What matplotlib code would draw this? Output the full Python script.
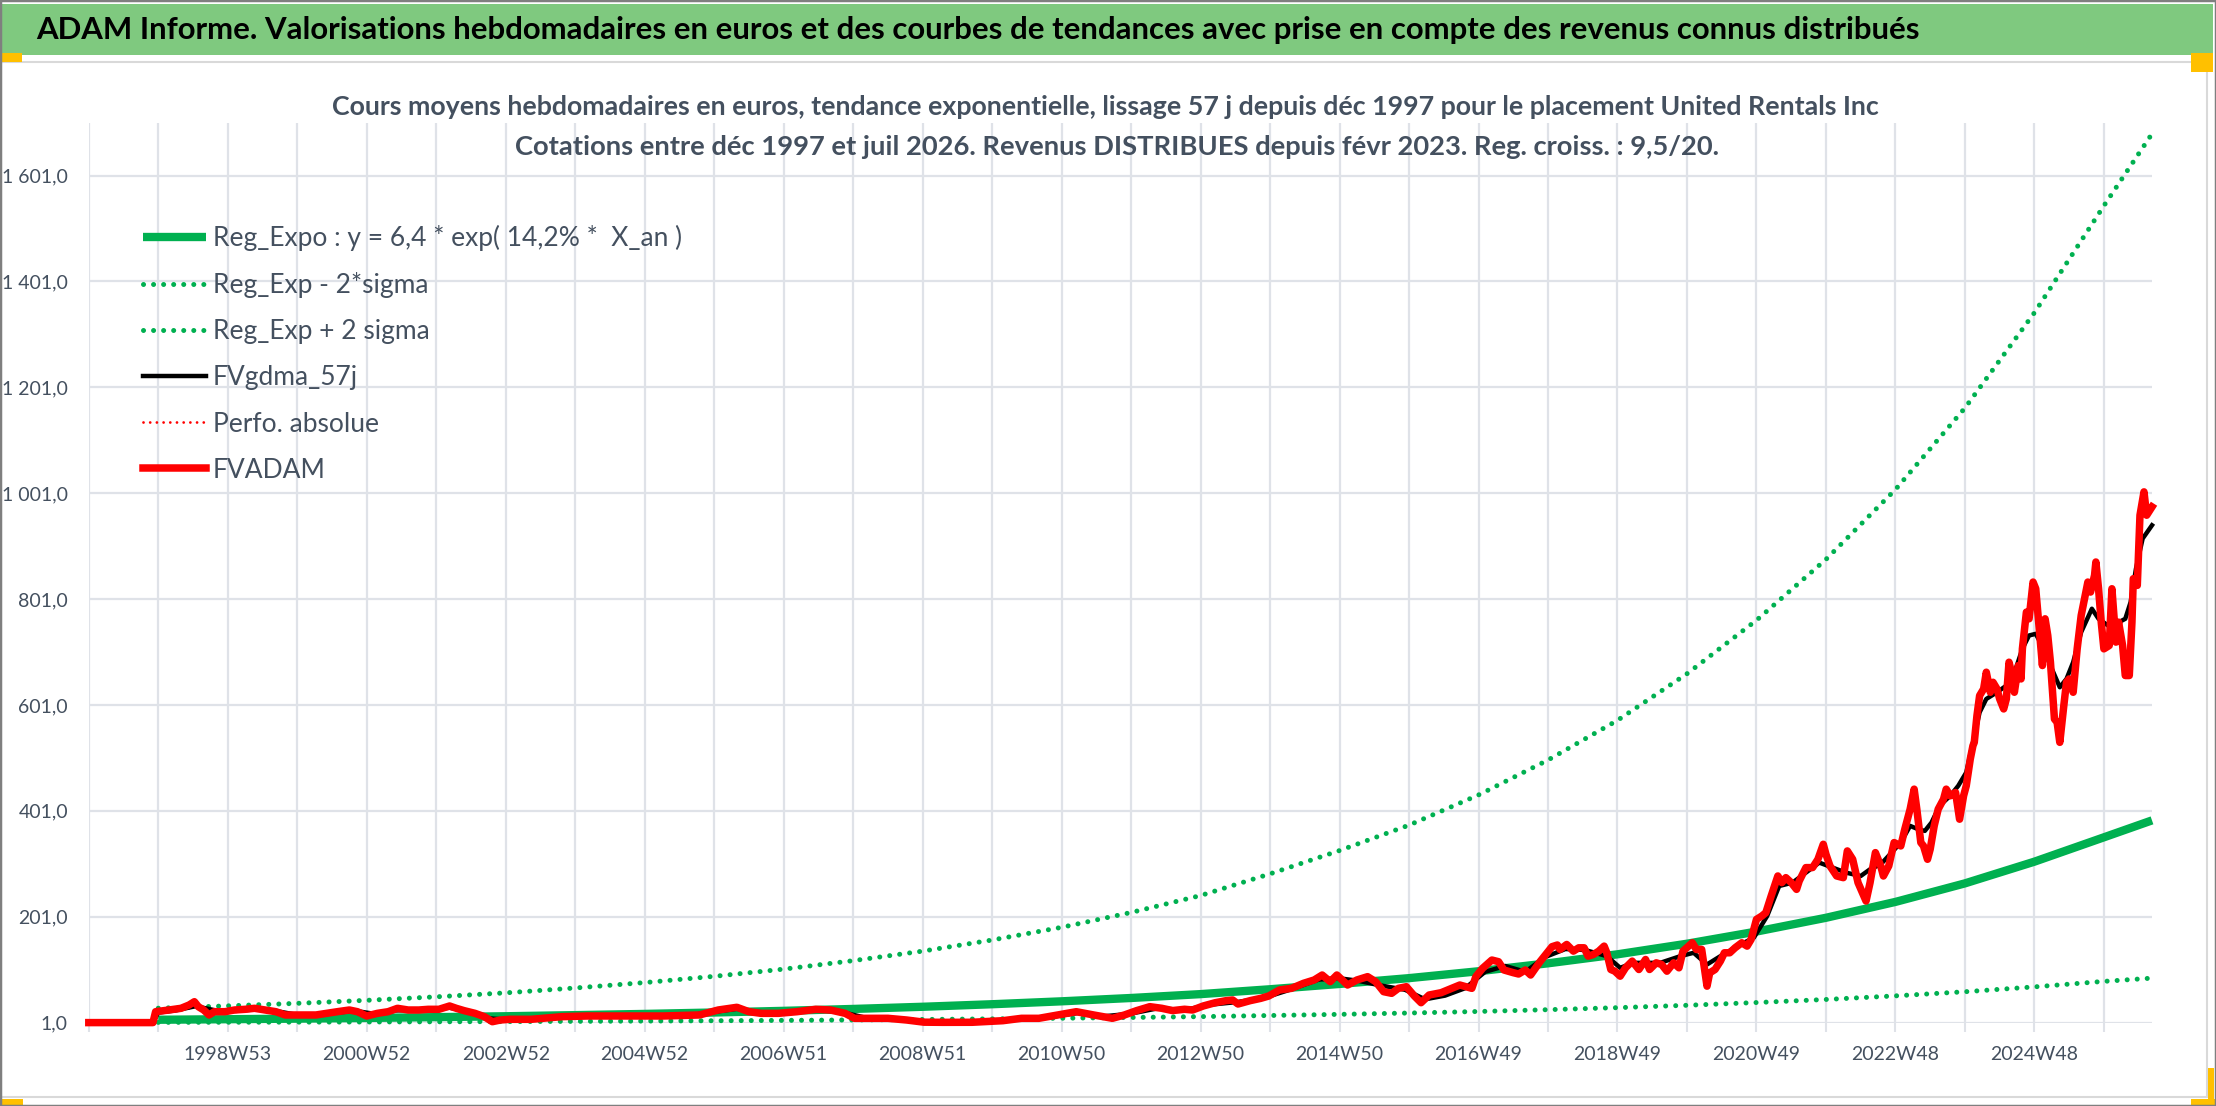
import matplotlib
matplotlib.use('Agg')
import matplotlib.pyplot as plt
from matplotlib.patches import Rectangle
import numpy as np

W, H = 2216, 1106

#------------------------------------------------------------------------------
# Data (x = week index from the first category, 52 weeks per gridline)
#------------------------------------------------------------------------------

tick_labels = {2: '1998W53', 4: '2000W52', 6: '2002W52', 8: '2004W52',
               10: '2006W51', 12: '2008W51', 14: '2010W50', 16: '2012W50',
               18: '2014W50', 20: '2016W49', 22: '2018W49', 24: '2020W49',
               26: '2022W48', 28: '2024W48'}

# FVADAM (week, value)
red_1997_2005 = [(0, 1), (48, 1), (50, 21.6), (60, 24.8), (69, 28), (75, 34.2), (79, 40.5),
                 (82, 31), (86, 24.8), (90, 15.4), (94, 21.6), (102, 21.6), (109, 24.8),
                 (117, 26.1), (124, 28), (132, 24.8), (140, 21.6), (147, 15.4), (155, 15.4),
                 (163, 15.4), (170, 15.4), (178, 18.5), (186, 21.6), (195, 24.8), (201, 21.6),
                 (208, 13.5), (216, 18.5), (224, 21.6), (231, 28), (239, 24.8), (247, 24.8),
                 (254, 26.1), (262, 26.1), (270, 32.4), (275, 28), (281, 23.5), (289, 18.5),
                 (296, 12.2), (302, 2.7), (308, 5.9), (315, 7.2), (331, 7.2), (354, 12.2),
                 (373, 13.5), (392, 13.5), (415, 13.5), (430, 13.5)]
red_2005_2012 = [(457, 15.4), (471, 24.8), (485, 29.9), (494, 21.6), (503, 18.5), (516, 18.5),
                 (530, 21.6), (544, 26.1), (555, 24.8), (566, 18.5), (573, 9.1), (584, 9.1),
                 (598, 9.1), (612, 5.9), (625, 1.8), (639, 1.5), (661, 1.6), (684, 4.6),
                 (698, 9.1), (711, 9.1), (725, 15.4), (739, 21.6), (752, 15.4), (766, 9.1),
                 (775, 15.4), (784, 23.5)]
red_2012_2018 = [(794, 31.1), (803, 28), (811, 23.7), (820, 26.2), (826, 24.8), (834, 32.4),
                 (843, 38.6), (851, 42.4), (856, 43.7), (860, 36.1), (869, 42.4), (877, 46.8),
                 (883, 51.2), (891, 62.6), (900, 65.7), (909, 75.2), (917, 81.5), (923, 90.9),
                 (929, 78.3), (934, 90.9), (942, 72), (949, 81.5), (957, 87.8), (963, 78.3),
                 (969, 59.4), (975, 56.3), (980, 65.7), (986, 68.8), (992, 51.2), (997, 38.6),
                 (1003, 53.1), (1012, 57.5), (1020, 65.7), (1026, 72), (1035, 65.7), (1038, 87.8),
                 (1043, 103.5), (1050, 119.2), (1055, 116), (1059, 100.4), (1066, 95.3),
                 (1070, 92.8), (1075, 100.4), (1079, 90.9), (1086, 116), (1095, 144.4),
                 (1099, 147.6)]
red_2018_2022 = [(1101, 139.2), (1106, 148.6), (1111, 136), (1115, 142.3), (1119, 142.3),
                 (1122, 126.5), (1126, 129.7), (1130, 136), (1134, 145.5), (1136, 132.9),
                 (1139, 101.3), (1142, 98.1), (1146, 88.7), (1150, 104.5), (1155, 117.1),
                 (1160, 101.3), (1165, 120.2), (1168, 101.3), (1173, 113.9), (1177, 110.8),
                 (1181, 98.1), (1186, 113.9), (1190, 104.5), (1193, 136), (1200, 151.8),
                 (1203, 139.2), (1207, 139.2), (1211, 69.8), (1213, 95), (1217, 101.3),
                 (1221, 117.1), (1224, 132.9), (1228, 132.9), (1232, 142.3), (1237, 151.8),
                 (1241, 145.5), (1244, 158.1), (1248, 196), (1252, 202.3), (1255, 208.6),
                 (1259, 240.1), (1264, 278), (1267, 265.4), (1270, 274.8), (1274, 265.4),
                 (1278, 252.7), (1280, 268.5), (1285, 293.8), (1290, 293.8), (1294, 309.5),
                 (1298, 337.9), (1300, 319), (1303, 296.9), (1308, 278), (1313, 274.8),
                 (1316, 325.3), (1320, 309.5), (1324, 265.4), (1330, 230.6)]
red_2022_2026 = [(1333, 265.3), (1337, 322.1), (1341, 296.9), (1343, 277.9), (1347, 296.9),
                 (1351, 341.1), (1356, 334.7), (1359, 366.3), (1363, 404.2), (1366, 442),
                 (1368, 404.2), (1371, 341.1), (1373, 334.7), (1376, 309.5), (1378, 328.4),
                 (1381, 372.6), (1384, 404.2), (1388, 423.1), (1390, 442), (1393, 429.4),
                 (1397, 435.7), (1400, 385.2), (1403, 429.4), (1405, 448.3), (1408, 498.8),
                 (1410, 524), (1411, 530.4), (1413, 580.8), (1415, 618.7), (1418, 631.3),
                 (1420, 662.9), (1423, 625), (1425, 643.9), (1428, 631.3), (1430, 612.4),
                 (1433, 593.5), (1435, 612.4), (1437, 681.8), (1440, 650.2), (1441, 625),
                 (1444, 675.5), (1446, 650.2), (1447, 707), (1450, 776.4), (1452, 763.8),
                 (1455, 833.2), (1457, 820.6), (1460, 732.3), (1462, 675.5), (1464, 763.8),
                 (1466, 732.3), (1468, 681.8), (1471, 574.5), (1473, 568.2), (1475, 530.4),
                 (1478, 599.8), (1480, 643.9), (1482, 650.2), (1485, 625), (1488, 707),
                 (1491, 770.1), (1493, 795.4), (1496, 833.2), (1498, 814.3), (1501, 845.9),
                 (1502, 871.1), (1504, 820.6), (1506, 757.5), (1508, 707), (1512, 713.3),
                 (1514, 820.6), (1517, 719.7), (1519, 757.5), (1522, 713.3), (1524, 656.6),
                 (1527, 656.6), (1529, 757.5), (1530, 839.5), (1533, 826.9), (1535, 959.4),
                 (1538, 1003.6), (1540, 959.4), (1544, 975.2)]

# FVgdma_57j (week, value)
black_1997_2018 = [(0, 1), (48, 1), (52, 20), (65, 24), (80, 32), (95, 24), (110, 23), (125, 26),
                   (140, 23), (155, 16), (170, 16), (185, 20), (200, 23), (215, 17), (230, 24),
                   (250, 25), (270, 29), (285, 22), (300, 9), (315, 6), (340, 9), (370, 13),
                   (410, 13.5), (450, 15), (470, 22), (485, 27), (500, 21), (520, 19), (545, 25),
                   (565, 20), (580, 11), (600, 8), (625, 3), (660, 2), (690, 6), (715, 10),
                   (740, 19), (760, 13), (780, 18), (800, 28), (820, 25), (840, 35), (860, 40),
                   (880, 48), (900, 64), (920, 82), (935, 85), (950, 80), (965, 72), (985, 63),
                   (1000, 45), (1015, 52), (1030, 66), (1045, 97), (1060, 108), (1075, 97),
                   (1090, 125), (1105, 140), (1120, 138)]
black_2018_2026 = [(1136, 126.5), (1146, 104.5), (1156, 113.9), (1176, 113.9), (1191, 126.5),
                   (1201, 132.9), (1211, 110.8), (1221, 126.5), (1236, 148.6), (1246, 161.2),
                   (1256, 202.3), (1265, 259), (1275, 265.4), (1285, 284.3), (1295, 303.2),
                   (1305, 293.8), (1315, 284.3), (1326, 277.9), (1333, 290.6), (1341, 300),
                   (1348, 319), (1356, 341.1), (1363, 372.6), (1369, 366.3), (1374, 363.1),
                   (1379, 378.9), (1385, 410.5), (1393, 429.4), (1399, 448.3), (1405, 473.6),
                   (1410, 530.4), (1415, 587.1), (1420, 612.4), (1428, 625), (1435, 637.6),
                   (1442, 669.2), (1447, 707), (1452, 732.3), (1457, 735.4), (1463, 707),
                   (1468, 675.5), (1475, 634.5), (1480, 650.2), (1485, 681.8), (1491, 738.6),
                   (1499, 782.8), (1504, 763.8), (1511, 751.2), (1517, 754.4), (1524, 763.8),
                   (1528, 795.4), (1532, 858.5), (1537, 915.3), (1544, 940.5)]

# trend curves read at each yearly gridline (week 52..1508) and at the last week
trend_weeks = [52 * k for k in range(1, 30)] + [1544]
reg_expo = [6.4, 7.4, 8.5, 9.8, 11.3, 13.0, 15.1, 17.4, 20.1, 23.2, 26.8, 30.9, 35.7, 41.2, 47.5,
            54.8, 64, 74, 85, 98, 113, 130, 150, 173, 199, 229, 264, 305, 351, 383]
reg_plus = [28.2, 32.6, 37.4, 43.1, 49.7, 57.2, 66.4, 76.6, 88.4, 102, 118, 136, 157, 181, 209,
            241, 282, 326, 374, 431, 497, 572, 660, 761, 876, 1008, 1162, 1342, 1544, 1680]
reg_minus = [1.44, 1.66, 1.91, 2.2, 2.54, 2.92, 3.39, 3.91, 4.52, 5.21, 6.02, 6.94, 8.02, 9.26,
             10.7, 12.3, 14.4, 16.6, 19.1, 22.0, 25.4, 29.2, 33.7, 38.9, 44.7, 51.5, 59.3, 68.5,
             78.9, 85]

red_w, red_v = zip(*(red_1997_2005 + red_2005_2012 + red_2012_2018 + red_2018_2022 + red_2022_2026))
blk_w, blk_v = zip(*(black_1997_2018 + black_2018_2026))

banner = ("ADAM Informe. Valorisations hebdomadaires en euros et des courbes de tendances "
          "avec prise en compte des revenus connus distribués")
title1 = ("Cours moyens hebdomadaires en euros, tendance exponentielle, lissage 57 j depuis "
          "déc 1997 pour le placement United Rentals Inc")
title2 = ("Cotations entre déc 1997 et juil 2026. Revenus DISTRIBUES depuis févr 2023. "
          "Reg. croiss. : 9,5/20.")

#------------------------------------------------------------------------------
# Figure
#------------------------------------------------------------------------------

green = '#00B050'
txtcol = '#44505f'
gridcol = '#dfe2e8'
plt.rcParams['font.family'] = ['Lato', 'DejaVu Sans']

fig = plt.figure(figsize=(W / 100, H / 100), dpi=100)
fig.patch.set_facecolor('white')


def px_rect(x, y, w, h, **kw):
    return Rectangle((x / W, 1 - (y + h) / H), w / W, h / H, transform=fig.transFigure, **kw)


fig.add_artist(px_rect(0, 4, 2213, 51, facecolor='#7fc97f', edgecolor='none'))
fig.add_artist(px_rect(1, 62, 2206, 1035, facecolor='none', edgecolor='#d9d9d9', lw=1.5))
for r in [(0, 53, 22, 9), (2191, 53, 22, 19), (0, 1099, 23, 6), (2208, 1068, 6, 38), (2191, 1099, 25, 6)]:
    fig.add_artist(px_rect(*r, facecolor='#ffc000', edgecolor='none'))
fig.add_artist(px_rect(0, 0, W, H, facecolor='none', edgecolor='#7f7f7f', lw=2.5))

ax = fig.add_axes([88.8 / W, 83.4 / H, 2063.2 / W, 899.4 / H])
ax.set_facecolor('none')
ax.set_xlim(0, 1544)
ax.set_ylim(1, 1700)

yt = np.arange(1, 1602, 200)
ax.set_yticks(yt)
ax.set_yticklabels([('%.1f' % v).replace('.', ',') if v < 1000 else
                    '%d %03d,0' % (v // 1000, v % 1000) for v in yt])
xt = np.arange(0, 1509, 52)
ax.set_xticks(xt)
ax.set_xticklabels([tick_labels.get(i, '') for i in range(len(xt))])
ax.grid(True, color=gridcol, lw=1.6, zorder=0)
ax.set_axisbelow(True)
for s in ax.spines.values():
    s.set_visible(False)
ax.tick_params(axis='x', length=6.5, width=1.5, color=gridcol, pad=10,
               labelsize=14, labelcolor=txtcol)
ax.tick_params(axis='y', length=0, pad=15, labelsize=14, labelcolor=txtcol)

dots = (0, (0.01, 2.0))
l_up, = ax.plot(trend_weeks, reg_plus, color=green, lw=3.6, ls=dots, dash_capstyle='round',
                clip_on=False, label='Reg_Exp + 2 sigma')
l_lo, = ax.plot(trend_weeks, reg_minus, color=green, lw=3.6, ls=dots, dash_capstyle='round',
                clip_on=False, label='Reg_Exp - 2*sigma')
l_reg, = ax.plot(trend_weeks, reg_expo, color=green, lw=6, solid_capstyle='butt',
                 clip_on=False, label='Reg_Expo : y = 6,4 * exp( 14,2% *  X_an )')
l_blk, = ax.plot(blk_w, blk_v, color='black', lw=3.2, clip_on=False, label='FVgdma_57j')
l_perf, = ax.plot([], [], color='red', lw=2.0, ls=(0, (0.01, 2.4)), dash_capstyle='round',
                  label='Perfo. absolue')
l_red, = ax.plot(red_w, red_v, color='red', lw=5.4, solid_joinstyle='round',
                 clip_on=False, label='FVADAM')

leg = ax.legend(handles=[l_reg, l_lo, l_up, l_blk, l_perf, l_red], loc='upper left',
                bbox_to_anchor=(143 / W, 1 - 225 / H), bbox_transform=fig.transFigure,
                frameon=False, fontsize=19, handlelength=2.4, handletextpad=0.25,
                labelspacing=0.8, borderpad=0, borderaxespad=0)
for t in leg.get_texts():
    t.set_color(txtcol)

t0 = fig.text(36 / W, 1 - 30 / H, banner, ha='left', va='center', weight='bold',
              color='black', fontsize=24)
t1 = fig.text(1105 / W, 1 - 107 / H, title1, ha='center', va='center', weight='bold',
              color=txtcol, fontsize=18)
t2 = fig.text(1117 / W, 1 - 147 / H, title2, ha='center', va='center', weight='bold',
              color=txtcol, fontsize=18)

# size the three headings to the widths measured on the picture
fig.canvas.draw()
rend = fig.canvas.get_renderer()
for t, width in [(t0, 1881), (t1, 1554), (t2, 1209)]:
    bb = t.get_window_extent(rend)
    t.set_fontsize(t.get_fontsize() * width / bb.width)

fig.savefig('out.png', dpi=100)
